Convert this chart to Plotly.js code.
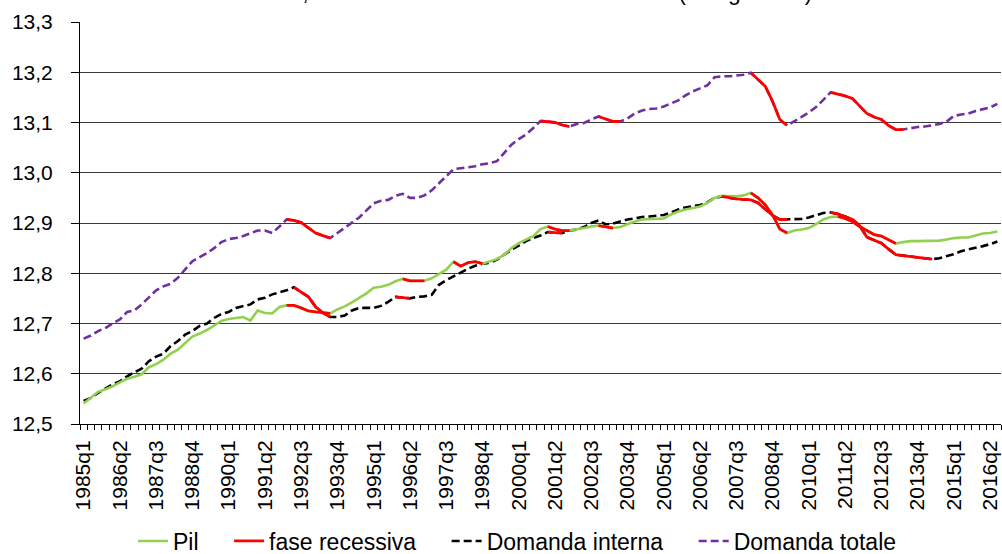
<!DOCTYPE html>
<html>
<head>
<meta charset="utf-8">
<script src="https://cdn.plot.ly/plotly-3.0.1.min.js"></script>
<style>html,body{margin:0;padding:0;background:#fff;}#chart{width:1002px;height:554px;}</style>
</head>
<body>
<div id="chart"></div>
<script>
// Quarterly categories 1985q1 .. 2016q3
const quarters = [];
for (let y = 1985; y <= 2016; y++) { for (let q = 1; q <= 4; q++) { quarters.push(y + 'q' + q); } }
quarters.length = 127;

const tickLabels = ['1985q1','1986q2','1987q3','1988q4','1990q1','1991q2','1992q3','1993q4','1995q1','1996q2','1997q3','1998q4','2000q1','2001q2','2002q3','2003q4','2005q1','2006q2','2007q3','2008q4','2010q1','2011q2','2012q3','2013q4','2015q1','2016q2'];

const pil = [
12.541,12.552,12.564,12.569,12.575,12.583,12.590,12.594,12.599,12.613,
12.619,12.628,12.640,12.648,12.662,12.674,12.680,12.687,12.696,12.705,
12.709,12.711,12.713,12.706,12.726,12.721,12.720,12.733,12.736,12.736,
12.731,12.725,12.723,12.721,12.720,12.728,12.734,12.742,12.751,12.760,
12.771,12.773,12.777,12.784,12.789,12.785,12.785,12.785,12.790,12.799,
12.807,12.823,12.814,12.821,12.823,12.819,12.824,12.828,12.837,12.850,
12.860,12.867,12.874,12.888,12.893,12.888,12.885,12.885,12.887,12.890,
12.893,12.895,12.893,12.890,12.892,12.898,12.903,12.907,12.908,12.908,
12.909,12.917,12.923,12.927,12.930,12.933,12.940,12.950,12.954,12.953,
12.953,12.955,12.960,12.950,12.936,12.916,12.888,12.880,12.885,12.887,
12.890,12.898,12.907,12.912,12.913,12.909,12.903,12.893,12.885,12.877,
12.874,12.867,12.859,12.862,12.864,12.864,12.864,12.865,12.865,12.867,
12.870,12.871,12.871,12.875,12.879,12.880,12.883];

const domandaInterna = [
12.546,12.552,12.562,12.570,12.579,12.585,12.595,12.603,12.610,12.625,
12.634,12.640,12.655,12.665,12.678,12.685,12.695,12.700,12.711,12.719,
12.723,12.731,12.734,12.738,12.748,12.751,12.758,12.762,12.766,12.772,
12.762,12.753,12.733,12.721,12.713,12.713,12.716,12.726,12.731,12.731,
12.731,12.735,12.743,12.753,12.752,12.750,12.753,12.754,12.757,12.777,
12.786,12.794,12.801,12.809,12.815,12.819,12.821,12.827,12.837,12.847,
12.855,12.864,12.870,12.875,12.882,12.881,12.880,12.885,12.887,12.892,
12.900,12.905,12.897,12.899,12.903,12.907,12.909,12.912,12.913,12.915,
12.916,12.921,12.927,12.931,12.933,12.936,12.941,12.950,12.953,12.950,
12.948,12.947,12.946,12.940,12.928,12.915,12.907,12.907,12.908,12.908,
12.911,12.915,12.920,12.921,12.918,12.913,12.907,12.895,12.872,12.866,
12.860,12.848,12.837,12.835,12.833,12.832,12.830,12.828,12.830,12.834,
12.838,12.844,12.847,12.850,12.854,12.858,12.863];

const domandaTotale = [
12.670,12.676,12.685,12.691,12.700,12.708,12.723,12.726,12.738,12.753,
12.766,12.774,12.779,12.791,12.807,12.824,12.832,12.840,12.850,12.862,
12.868,12.870,12.874,12.880,12.885,12.885,12.880,12.893,12.907,12.905,
12.901,12.890,12.880,12.875,12.870,12.880,12.890,12.900,12.911,12.925,
12.939,12.944,12.946,12.954,12.958,12.950,12.950,12.955,12.965,12.979,
12.993,13.007,13.009,13.011,13.013,13.017,13.019,13.023,13.039,13.056,
13.067,13.076,13.089,13.103,13.102,13.100,13.095,13.092,13.097,13.099,
13.106,13.112,13.107,13.102,13.102,13.108,13.118,13.124,13.127,13.128,
13.132,13.138,13.144,13.154,13.162,13.168,13.174,13.190,13.192,13.192,
13.193,13.195,13.199,13.186,13.172,13.142,13.106,13.094,13.102,13.111,
13.120,13.131,13.145,13.160,13.157,13.153,13.148,13.133,13.118,13.111,
13.106,13.094,13.086,13.086,13.089,13.091,13.092,13.094,13.097,13.102,
13.113,13.116,13.118,13.123,13.126,13.130,13.137];

// Recession phases (fase recessiva) per series: [start, end]
const recessioniPil = [['1992q1','1993q3'],['1996q1','1996q4'],['1997q4','1998q4'],['2001q1','2001q4'],['2002q4','2003q2'],['2008q1','2009q2'],['2011q1','2013q1']];
const recessioniDomInterna = [['1992q2','1993q3'],['1995q4','1996q2'],['2001q1','2001q3'],['2007q1','2009q2'],['2010q4','2014q2']];
const recessioniDomTotale = [['1992q1','1993q3'],['2000q4','2001q4'],['2002q4','2003q3'],['2008q1','2009q2'],['2010q4','2013q2']];

const xi = quarters.map((_, i) => i);
const tickVals = tickLabels.map(l => quarters.indexOf(l));

function mask(series, periods) {
  return series.map((v, i) => {
    for (const [a, b] of periods) {
      if (i >= quarters.indexOf(a) && i <= quarters.indexOf(b)) return v;
    }
    return null;
  });
}

const GREEN = '#92D050', RED = '#FF0000', PURPLE = '#7030A0';
const FONT = 'Liberation Sans, Arial, sans-serif';
const PAD = '\u00A0\u00A0\u00A0\u00A0';

const traces = [
  {x: xi, y: domandaTotale, mode: 'lines', name: 'Domanda totale', legendrank: 4,
   line: {color: PURPLE, width: 2.6, dash: '8px,4px'}},
  {x: xi, y: domandaInterna, mode: 'lines', name: 'Domanda interna' + PAD, legendrank: 3,
   line: {color: '#000000', width: 2.6, dash: '8px,4px'}},
  {x: xi, y: pil, mode: 'lines', name: 'Pil' + PAD, legendrank: 1,
   line: {color: GREEN, width: 2.6}},
  {x: xi, y: mask(pil, recessioniPil), mode: 'lines', name: 'fase recessiva' + PAD, legendrank: 2,
   legendgroup: 'rec', line: {color: RED, width: 2.8}, connectgaps: false},
  {x: xi, y: mask(domandaInterna, recessioniDomInterna), mode: 'lines', name: 'fase recessiva',
   legendgroup: 'rec', showlegend: false, line: {color: RED, width: 2.8}, connectgaps: false},
  {x: xi, y: mask(domandaTotale, recessioniDomTotale), mode: 'lines', name: 'fase recessiva',
   legendgroup: 'rec', showlegend: false, line: {color: RED, width: 2.8}, connectgaps: false}
];

const layout = {
  width: 1002, height: 554,
  margin: {l: 80, r: 1, t: 22, b: 130},
  paper_bgcolor: '#fff', plot_bgcolor: '#fff',
  separators: ',.',
  font: {family: FONT, size: 21, color: '#000'},
  showlegend: true,
  legend: {orientation: 'h', xref: 'container', yref: 'container',
           x: 0.1327, xanchor: 'left', y: 0.0235, yanchor: 'middle',
           font: {family: FONT, size: 23, color: '#000'}, traceorder: 'normal'},
  xaxis: {
    range: [-0.5, 126.5], tickmode: 'array', tickvals: tickVals, ticktext: tickLabels,
    tickangle: -90, ticks: '', showline: true, linecolor: '#000', linewidth: 1,
    showgrid: false, zeroline: false, ticklabelstandoff: 7, automargin: false,
    tickfont: {family: FONT, size: 21, color: '#000'},
    minor: {tickmode: 'linear', tick0: 0.5, dtick: 1, ticks: 'outside', ticklen: 5, tickcolor: '#000', showgrid: false}
  },
  yaxis: {
    range: [12.5, 13.3], tick0: 12.5, dtick: 0.1, tickformat: '.1f',
    ticks: 'outside', ticklen: 8, tickcolor: '#000', showline: true, linecolor: '#000', linewidth: 1,
    showgrid: true, gridcolor: '#3a3a3a', gridwidth: 1, zeroline: false, ticklabelstandoff: 14,
    automargin: false, tickfont: {family: FONT, size: 21, color: '#000'}
  },
  annotations: [{
    text: 'Grafico 1 - Pil, domanda interna e domanda totale (in logaritmo)',
    xref: 'paper', yref: 'paper', x: 0.442, y: 1, xanchor: 'center', yanchor: 'bottom',
    yshift: 15, showarrow: false, font: {family: FONT, size: 23, color: '#000'}
  }]
};

Plotly.newPlot('chart', traces, layout, {displayModeBar: false, staticPlot: true});
</script>
</body>
</html>
